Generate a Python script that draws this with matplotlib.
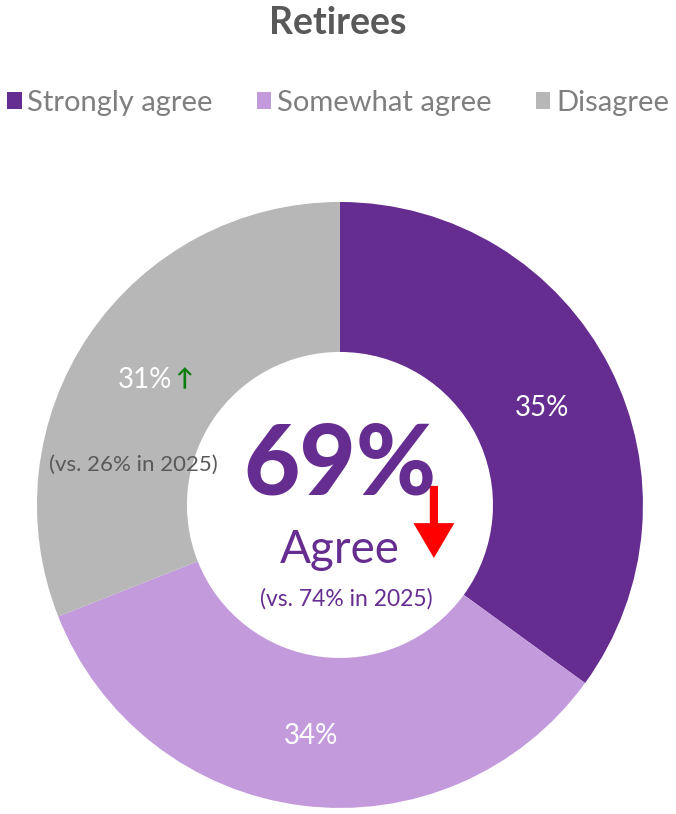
import numpy as np
import matplotlib.pyplot as plt
from matplotlib.patches import Patch

plt.rcParams['font.family'] = ['Lato', 'DejaVu Sans']

categories = ["Strongly agree", "Somewhat agree", "Disagree"]
values = [35, 34, 31]
colors = ["#662D91", "#C39BDD", "#B7B7B7"]
agree_total = 69
agree_prev = 74
disagree_prev = 26

fig = plt.figure(figsize=(6.76, 8.14), dpi=100)
ax = fig.add_axes([0.0547, 0.0074, 0.8964, 0.7445])

wedges, texts, autotexts = ax.pie(
    values, colors=colors, startangle=90, counterclock=False,
    radius=1, wedgeprops=dict(width=0.495, edgecolor="none"),
    autopct=lambda p: f"{p:.0f}%", pctdistance=0.75,
    textprops=dict(color="white", fontsize=20))
ax.set_xlim(-1, 1)
ax.set_ylim(-1, 1)
ax.set_aspect("equal")

for t in autotexts[:2]:
    x, y = t.get_position()
    t.set_position((x, y - 0.02))

# disagree label with arrow
t = autotexts[2]
x, y = t.get_position()
t.set_position((x + 0.066, y - 0.01))
t.set_ha("right")
ax.text(x + 0.075, y - 0.005, "↑", color="#0A7D0A", fontsize=17,
        fontweight="bold", ha="left", va="center")
ax.text(x - 0.063, y - 0.29, f"(vs. {disagree_prev}% in 2025)",
        color="#595959", fontsize=16, ha="center", va="center")

# center
ax.text(0, 0.13, f"{agree_total}%", color="#662D91", fontsize=70,
        fontweight="black", ha="center", va="center")
ax.text(0, -0.15, "Agree", color="#662D91", fontsize=33,
        ha="center", va="center")
ax.text(0.02, -0.31, f"(vs. {agree_prev}% in 2025)", color="#662D91",
        fontsize=16.5, ha="center", va="center")
ax.arrow(0.31, 0.063, 0, -0.238, width=0.027, head_width=0.135,
         head_length=0.115, length_includes_head=True,
         color="#FF0000", lw=0)

fig.text(0.5, 0.972, "Retirees", color="#595959", fontsize=27,
         fontweight="bold", ha="center", va="center")
handles = [Patch(facecolor=c, edgecolor="none") for c in colors]
fig.legend(handles, categories, loc="center", bbox_to_anchor=(0.5, 0.8735),
           ncol=3, frameon=False, fontsize=21, labelcolor="#7F7F7F",
           handlelength=0.5, handleheight=0.5, handletextpad=0.2,
           columnspacing=1.5)

fig.savefig("out.png", dpi=100)
